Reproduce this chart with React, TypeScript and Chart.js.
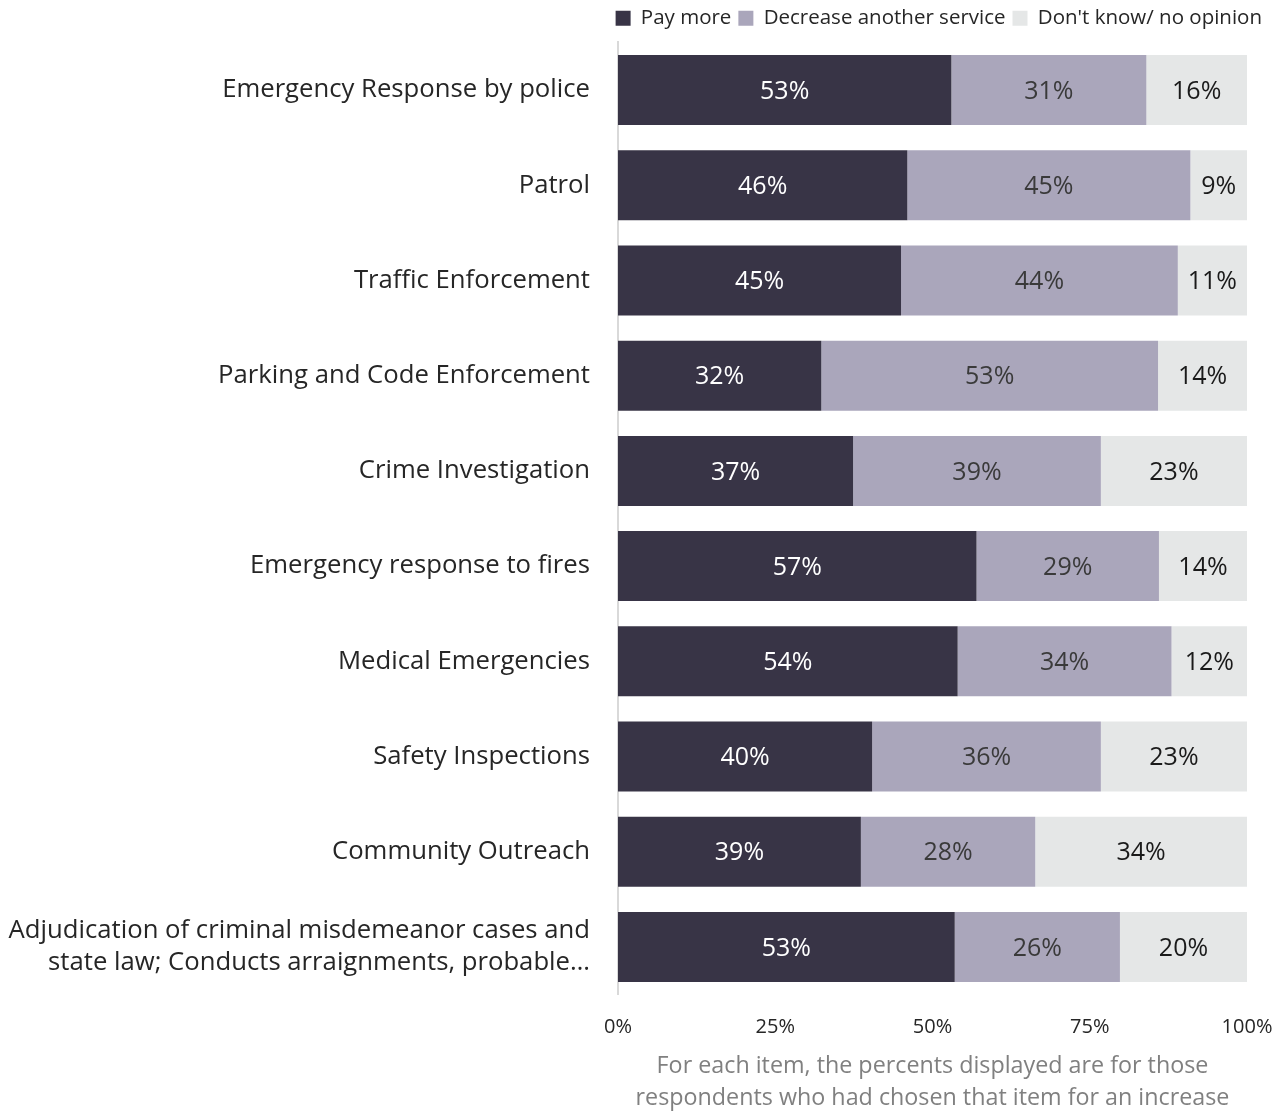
import React, { useEffect, useRef } from "react";
import { Chart, registerables } from "chart.js";

Chart.register(...registerables);

const categories: (string | string[])[] = [
  "Emergency Response by police",
  "Patrol",
  "Traffic Enforcement",
  "Parking and Code Enforcement",
  "Crime Investigation",
  "Emergency response to fires",
  "Medical Emergencies",
  "Safety Inspections",
  "Community Outreach",
  ["Adjudication of criminal misdemeanor cases and", "state law; Conducts arraignments, probable…"],
];

const payMore = [53, 46, 45, 32, 37, 57, 54, 40, 39, 53];
const decreaseAnother = [31, 45, 44, 53, 39, 29, 34, 36, 28, 26];
const dontKnow = [16, 9, 11, 14, 23, 14, 12, 23, 34, 20];

const seriesNames = ["Pay more", "Decrease another service", "Don't know/ no opinion"];
const xTicks = ["0%", "25%", "50%", "75%", "100%"];
const footnote = [
  "For each item, the percents displayed are for those",
  "respondents who had chosen that item for an increase",
];

const COLORS = ["#383446", "#aaa6bb", "#e5e7e7"];
const LABEL_COLORS = ["#ffffff", "#3a3a3a", "#1a1a1a"];
const FONT = "'Open Sans', sans-serif";

const totals = payMore.map((v, i) => v + decreaseAnother[i] + dontKnow[i]);
const norm = (arr: number[]) => arr.map((v, i) => (v / totals[i]) * 100);
const rawSeries = [payMore, decreaseAnother, dontKnow];

const labelPlugin = {
  id: "barLabels",
  afterDatasetsDraw(chart: any) {
    const ctx = chart.ctx;
    ctx.save();
    ctx.font = `25px ${FONT}`;
    ctx.textAlign = "center";
    ctx.textBaseline = "middle";
    chart.data.datasets.forEach((ds: any, di: number) => {
      const meta = chart.getDatasetMeta(di);
      meta.data.forEach((el: any, i: number) => {
        const cx = (el.x + el.base) / 2;
        ctx.fillStyle = LABEL_COLORS[di];
        ctx.fillText(`${rawSeries[di][i]}%`, cx, el.y + 1.5);
      });
    });
    ctx.restore();
  },
};

const legendFitPlugin = {
  id: "legendFit",
  beforeLayout(chart: any) {
    const lg = chart.legend;
    if (lg && !lg._patched) {
      const orig = lg.fit.bind(lg);
      lg.fit = function () {
        orig();
        this.height = 41.4;
      };
      lg._patched = true;
    }
  },
};

export default function App() {
  const ref = useRef<HTMLCanvasElement>(null);
  useEffect(() => {
    document.body.style.margin = "0";
    if (!ref.current) return;
    const chart = new Chart(ref.current, {
      type: "bar",
      data: {
        labels: categories,
        datasets: rawSeries.map((s, i) => ({
          label: seriesNames[i],
          data: norm(s),
          backgroundColor: COLORS[i],
          borderWidth: 0,
          categoryPercentage: 0.735,
          barPercentage: 1,
        })),
      },
      options: {
        indexAxis: "y",
        animation: false,
        responsive: false,
        maintainAspectRatio: false,
        layout: { padding: { top: 1, right: 17, bottom: 0, left: 0 } },
        plugins: {
          legend: {
            position: "top",
            align: "end",
            labels: {
              font: { family: FONT, size: 20.5 },
              color: "#262626",
              boxWidth: 15,
              boxHeight: 15,
              padding: 7,
            },
          },
          tooltip: { enabled: false },
        },
        scales: {
          x: {
            stacked: true,
            min: 0,
            max: 100,
            grid: { display: false, drawTicks: false },
            border: { display: false },
            ticks: {
              stepSize: 25,
              padding: 21,
              color: "#262626",
              font: { family: FONT, size: 20 },
              callback: (v: any, idx: number) => xTicks[idx],
            },
            title: {
              display: true,
              text: footnote,
              color: "#808080",
              font: { family: FONT, size: 23.3, lineHeight: 1.373 },
              padding: { top: 0, bottom: -3 },
            },
            afterFit: (scale: any) => {
              scale.height = 116.4;
              scale.paddingLeft = 0;
              scale.paddingRight = 39;
            },
          },
          y: {
            stacked: true,
            grid: { display: false, drawTicks: false },
            border: { display: true, color: "#d9d9d9", width: 2 },
            ticks: {
              padding: 28,
              color: "#262626",
              font: { family: FONT, size: 25.7, lineHeight: 1.25 },
            },
            afterFit: (scale: any) => {
              scale.width = 618;
              scale.paddingTop = 0;
              scale.paddingBottom = 0;
            },
          },
        },
      },
      plugins: [labelPlugin, legendFitPlugin],
    });
    return () => chart.destroy();
  }, []);
  return (
    <div style={{ width: 1286, height: 1111, overflow: "hidden" }}>
      <canvas
        ref={ref}
        width={1286}
        height={1111}
        style={{ width: 1286, height: 1111, display: "block" }}
      />
    </div>
  );
}
